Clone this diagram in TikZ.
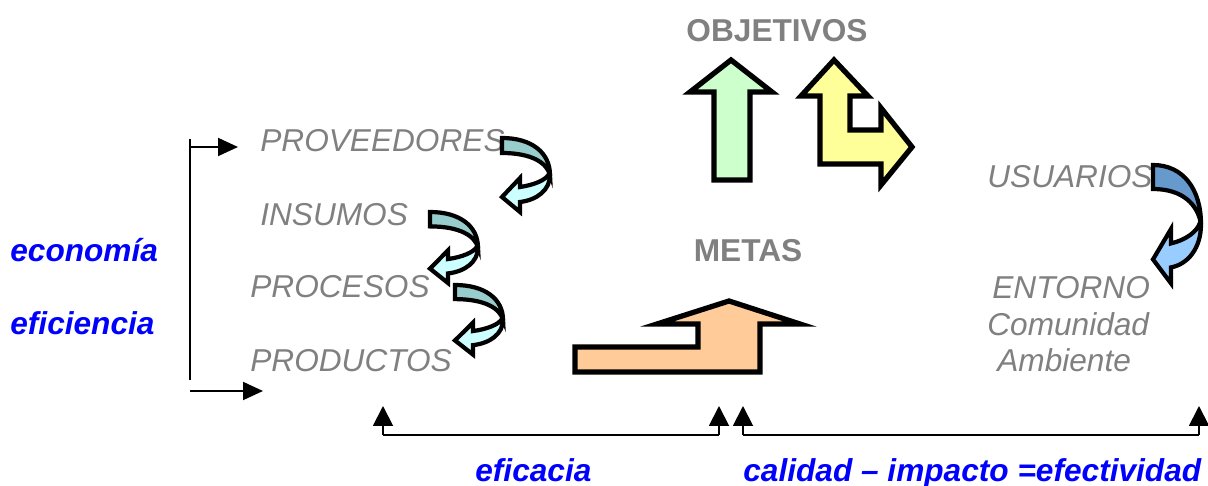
\documentclass[tikz,border=0pt]{standalone}
\usepackage{fontspec}
\setmainfont{Liberation Sans}
\usetikzlibrary{arrows.meta}

\definecolor{gristexto}{HTML}{808080}
\definecolor{azulcriterio}{HTML}{0000FF}
\definecolor{verdeflecha}{HTML}{CCFFCC}
\definecolor{amarilloflecha}{HTML}{FFFF99}
\definecolor{naranjaflecha}{HTML}{FFCC99}
\definecolor{tealoscuro}{HTML}{99CCCC}
\definecolor{tealclaro}{HTML}{CCFFFF}
\definecolor{azuloscuro}{HTML}{6699CC}
\definecolor{azulclaro}{HTML}{99CCFF}

\tikzset{
    etiqueta/.style={font=\fontsize{18}{21}\selectfont\itshape, text=gristexto, anchor=base west, inner sep=0pt},
    criterio/.style={font=\fontsize{18}{21}\selectfont\bfseries\itshape, text=azulcriterio, anchor=base west, inner sep=0pt},
    titulo/.style={font=\fontsize{18}{21}\selectfont\bfseries, text=gristexto, anchor=base, inner sep=0pt},
    bloque/.style={draw=black, line width=3pt, line join=miter},
    flecha/.style={line width=1.1pt, -{Triangle[length=0.4cm, width=0.36cm]}},
    tramo/.style={line width=1.1pt},
    pics/curva/.style 2 args={code={
        \draw[draw=black, line width=2.4pt, fill=#1]
            (0,0) .. controls (30,0) and (48,15) .. (48,37)
            .. controls (45,25) and (30,15) .. (0,15) -- cycle;
        \draw[draw=black, line width=2.4pt, fill=#2]
            (48,37) .. controls (48,52) and (35,62) .. (18,64)
            -- (18,74) -- (0,59) -- (18,40) -- (18,49)
            .. controls (32,47) and (44,42) .. (47,36) -- cycle;
    }}
}

\begin{document}
\begin{tikzpicture}[x=0.02cm, y=-0.02cm]
    \useasboundingbox (0,0) rectangle (1208,486);

    % textos
    \node[titulo] (objetivos) at (777,42) {OBJETIVOS};
    \node[titulo] (metas) at (748,262) {METAS};

    \node[etiqueta] (proveedores) at (260,152) {PROVEEDORES};
    \node[etiqueta] (insumos) at (260,226) {INSUMOS};
    \node[etiqueta] (procesos) at (250,298) {PROCESOS};
    \node[etiqueta] (productos) at (250,372) {PRODUCTOS};

    \node[etiqueta] (usuarios) at (987,188) {USUARIOS};
    \node[etiqueta] (entorno) at (992,299) {ENTORNO};
    \node[etiqueta] (comunidad) at (987,336) {Comunidad};
    \node[etiqueta] (ambiente) at (997,372) {Ambiente};

    \node[criterio] (economia) at (10,262) {economía};
    \node[criterio] (eficiencia) at (10,335) {eficiencia};
    \node[criterio] (eficacia) at (475,481) {eficacia};
    \node[criterio] (efectividad) at (743,481) {calidad -- impacto =efectividad};

    % flechas de bloque
    \draw[bloque, fill=verdeflecha] (731,60) -- (772,92) -- (750,92) -- (750,180)
        -- (714,180) -- (714,92) -- (690,92) -- cycle;
    \draw[bloque, fill=amarilloflecha] (834,60) -- (868,96) -- (850,96) -- (850,130)
        -- (881,130) -- (881,108) -- (912,147) -- (881,185) -- (881,164)
        -- (820,164) -- (820,96) -- (801,96) -- cycle;
    \draw[bloque, fill=naranjaflecha] (729,301) -- (800,324) -- (760,324) -- (760,372)
        -- (575,372) -- (575,347) -- (698,347) -- (698,324) -- (657,324) -- cycle;

    % flechas curvas
    \pic at (502,138) {curva={tealoscuro}{tealclaro}};
    \pic[yscale=0.96] at (430,212) {curva={tealoscuro}{tealclaro}};
    \pic[yscale=0.94] at (455,285) {curva={tealoscuro}{tealclaro}};
    \pic[yscale=1.6] at (1153,165) {curva={azuloscuro}{azulclaro}};

    % llave izquierda
    \coordinate (llave-a) at (190,139);
    \coordinate (llave-b) at (190,380);
    \coordinate (llave-c) at (190,147);
    \coordinate (llave-d) at (238,147);
    \coordinate (llave-e) at (190,391);
    \coordinate (llave-f) at (263,391);
    \draw[tramo] (llave-a) -- (llave-b);
    \draw[flecha] (llave-c) -- (llave-d);
    \draw[flecha] (llave-e) -- (llave-f);

    % tramos inferiores
    \coordinate (eficacia-a) at (383,435);
    \coordinate (eficacia-b) at (719,435);
    \coordinate (efectividad-a) at (743,435);
    \coordinate (efectividad-b) at (1199,435);
    \draw[tramo] (eficacia-a) -- (eficacia-b);
    \draw[tramo] (efectividad-a) -- (efectividad-b);
    \foreach \punto in {eficacia-a, eficacia-b, efectividad-a, efectividad-b}
        \draw[line width=1.1pt, -{Triangle[length=0.4cm, width=0.4cm]}] (\punto) -- ++(0,-29);
\end{tikzpicture}
\end{document}
